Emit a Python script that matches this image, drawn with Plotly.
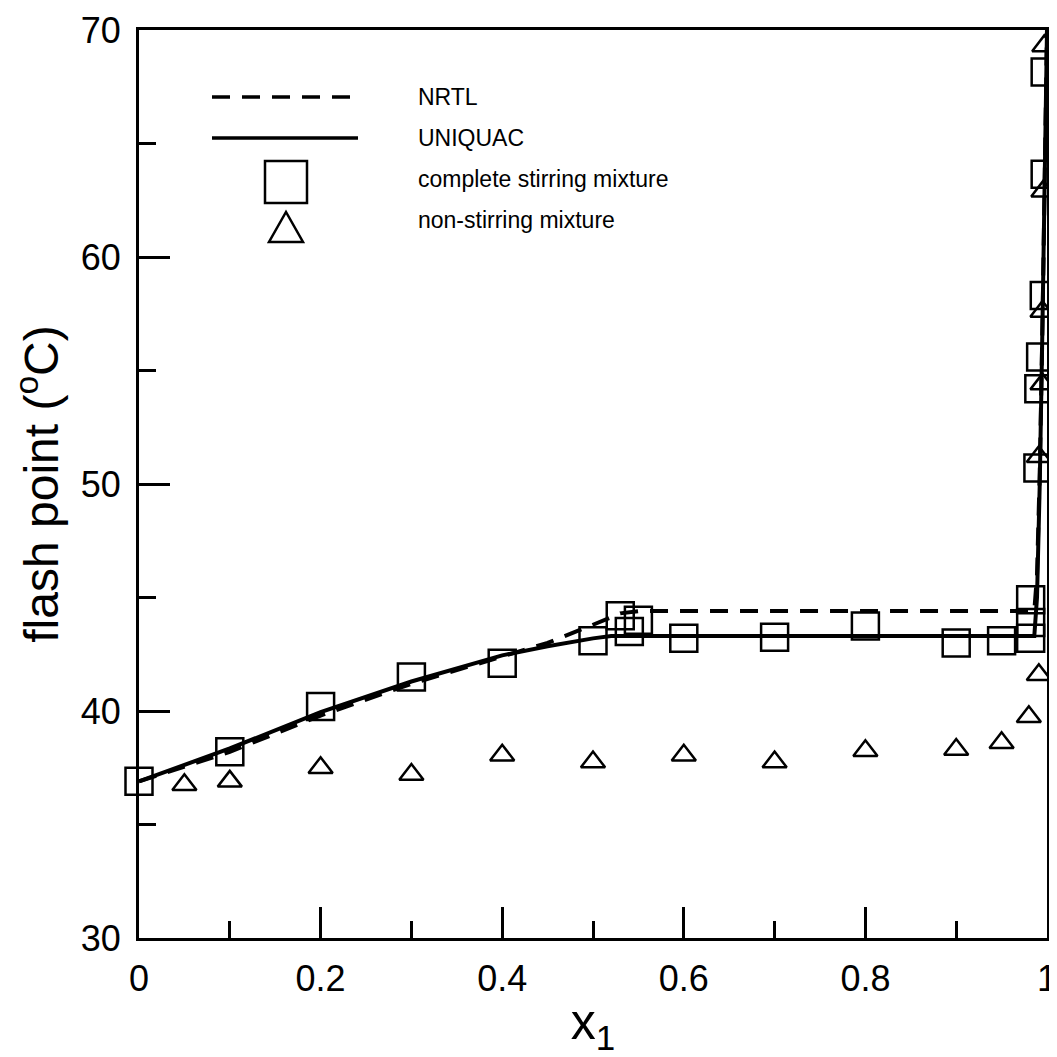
import plotly.graph_objects as go

# ---------------- data ----------------
nrtl_x = [0, 0.1, 0.2, 0.3, 0.4, 0.45, 0.5, 0.53, 0.55, 0.986, 0.989, 0.992, 0.995, 0.998, 1.0]
nrtl_y = [36.9, 38.2, 39.8, 41.2, 42.4, 43.0, 43.8, 44.3, 44.4, 44.4, 46.0, 50.5, 57.0, 64.0, 70.0]

uniq_x = [0, 0.1, 0.2, 0.3, 0.4, 0.45, 0.5, 0.52, 0.55, 0.986, 0.989, 0.992, 0.995, 0.998, 1.0]
uniq_y = [36.9, 38.35, 39.95, 41.3, 42.45, 42.85, 43.2, 43.3, 43.3, 43.3, 45.0, 50.0, 57.0, 64.0, 70.0]

stir_x = [0, 0.1, 0.2, 0.3, 0.4, 0.5, 0.53, 0.54, 0.55, 0.6, 0.7, 0.8, 0.9, 0.95,
          0.982, 0.982, 0.982, 0.990, 0.991, 0.993, 0.997, 0.998, 0.998]
stir_y = [36.9, 38.2, 40.2, 41.5, 42.1, 43.1, 44.2, 43.5, 44.0, 43.2, 43.25, 43.75, 43.0, 43.1,
          43.2, 43.9, 44.9, 50.7, 54.2, 55.6, 58.3, 63.65, 68.15]

tri_x = [0.05, 0.1, 0.2, 0.3, 0.4, 0.5, 0.6, 0.7, 0.8, 0.9, 0.95, 0.98, 0.991, 0.991, 0.995, 0.995, 0.996, 0.997]
tri_y = [36.75, 36.9, 37.5, 37.2, 38.05, 37.75, 38.05, 37.75, 38.25, 38.3, 38.6, 39.75, 41.6, 51.2, 54.4, 57.6, 62.9, 69.3]

legend_labels = ["NRTL", "UNIQUAC", "complete stirring mixture", "non-stirring mixture"]

FONT = "Liberation Sans, Arial, sans-serif"

fig = go.Figure()
fig.add_trace(go.Scatter(x=nrtl_x, y=nrtl_y, mode="lines",
                         line=dict(color="black", width=4, dash="18px,12px"), showlegend=False))
fig.add_trace(go.Scatter(x=uniq_x, y=uniq_y, mode="lines",
                         line=dict(color="black", width=4), showlegend=False))
fig.add_trace(go.Scatter(x=stir_x, y=stir_y, mode="markers", cliponaxis=False,
                         marker=dict(symbol="square-open", size=27, color="black",
                                     line=dict(width=2.5, color="black")), showlegend=False))
fig.add_trace(go.Scatter(x=tri_x, y=tri_y, mode="markers", cliponaxis=False,
                         marker=dict(symbol="triangle-up-open", size=21, color="black",
                                     line=dict(width=2.5, color="black")), showlegend=False))

# ---------------- layout geometry ----------------
# page has an 8px body margin, so the figure is drawn 8px right/down of the window origin
OFF = 8
FIG_W = FIG_H = 1057 - OFF
PL, PT, PW, PH = 139, 30, 908, 908          # plot area in window pixels
ml = PL - OFF
mt = PT - OFF
mr = FIG_W - (ml + PW)
mb = FIG_H - (mt + PH)

def px(x):
    return (x - PL) / PW
def py(y):
    return (PT + PH - y) / PH

# ---------------- manual legend ----------------
shapes = [
    dict(type="line", xref="paper", yref="paper", x0=px(212), x1=px(354), y0=py(97), y1=py(97),
         line=dict(color="black", width=3.5, dash="18px,12px")),
    dict(type="line", xref="paper", yref="paper", x0=px(212), x1=px(358), y0=py(138), y1=py(138),
         line=dict(color="black", width=3.5)),
    dict(type="rect", xref="paper", yref="paper", x0=px(265), x1=px(307), y0=py(203), y1=py(161),
         line=dict(color="black", width=2.5)),
    dict(type="path", xref="paper", yref="paper",
         path=f"M {px(269)},{py(242)} L {px(303)},{py(242)} L {px(286)},{py(212)} Z",
         line=dict(color="black", width=2.5)),
]
annots = []
for lab, yy in zip(legend_labels, [97, 138, 179, 220]):
    annots.append(dict(xref="paper", yref="paper", x=px(416), y=py(yy), text=lab,
                       showarrow=False, xanchor="left", yanchor="middle",
                       font=dict(family=FONT, size=23, color="black")))

fig.update_layout(
    template="none",
    width=FIG_W, height=FIG_H,
    margin=dict(l=ml, r=mr, t=mt, b=mb, autoexpand=False),
    paper_bgcolor="white", plot_bgcolor="white",
    font=dict(family=FONT, color="black"),
    shapes=shapes, annotations=annots,
    xaxis=dict(range=[0, 1], dtick=0.2, tick0=0, tickformat="~g", automargin=True,
               showgrid=False, zeroline=False,
               showline=True, linewidth=3, linecolor="black", mirror=True,
               ticks="inside", ticklen=31, tickwidth=3, tickcolor="black",
               minor=dict(ticks="inside", ticklen=17, tickwidth=3, tickcolor="black", dtick=0.1, showgrid=False),
               tickfont=dict(family=FONT, size=36, color="black"),
               ticklabelstandoff=7, ticklabeloverflow="allow",
               title=dict(text="x<sub>1</sub>", font=dict(family=FONT, size=50, color="black"), standoff=13)),
    yaxis=dict(range=[30, 70], dtick=10, tick0=30, automargin=True,
               showgrid=False, zeroline=False,
               showline=True, linewidth=3, linecolor="black", mirror=True,
               ticks="inside", ticklen=31, tickwidth=3, tickcolor="black",
               minor=dict(ticks="inside", ticklen=17, tickwidth=3, tickcolor="black", dtick=5, showgrid=False),
               tickfont=dict(family=FONT, size=36, color="black"),
               ticklabelstandoff=8, ticklabeloverflow="allow",
               title=dict(text="flash point (<sup>o</sup>C)", font=dict(family=FONT, size=48, color="black"), standoff=29)),
)

fig.write_html("out.html")
